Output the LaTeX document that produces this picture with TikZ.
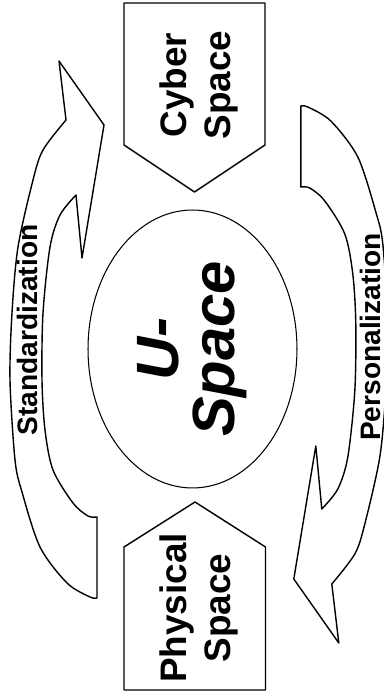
\documentclass[tikz,border=0pt]{standalone}
\usepackage{fontspec}
\setsansfont{Liberation Sans}
\usetikzlibrary{shapes.geometric}

\begin{document}
\begin{tikzpicture}[x=0.02cm, y=0.02cm, line join=round,
   box/.style={draw, thick},
   band/.style={draw, thick, fill=white},
   core/.style={ellipse, draw, semithick, rotate=90, align=center,
             minimum width=5.56cm, minimum height=4.18cm, inner sep=0pt,
             font=\sffamily\bfseries\itshape\fontsize{34}{32}\selectfont},
   spc/.style={rotate=90, align=center, inner sep=0pt,
             font=\sffamily\bfseries\fontsize{21}{25.5}\selectfont},
   lbl/.style={rotate=90, inner sep=0pt,
             font=\sffamily\bfseries\fontsize{16}{19}\selectfont},
   flowarrow/.pic={
     \draw[band] plot[smooth] coordinates {(66,577) (43,547) (33,517) (18,450)
           (12,384) (10,317) (15,237) (22,205) (40,150) (67,114) (90,100) (97,99)}
       -- plot[smooth] coordinates {(97,180) (88,181) (73,194) (53,227) (45,267)
           (42,317) (43,384) (50,450) (60,482) (76,502)}
       -- (82,439) -- (104,572) -- (59,636) -- cycle;
   }]

  \useasboundingbox (0,0) rectangle (384,697);

  % ===== Fleches circulaires =====
  \pic at (0,0) {flowarrow};
  \pic[rotate=180] at (397.8,690) {flowarrow};

  % ===== Espaces =====
  \draw[box] (124,694) -- (265,694) -- (265,552) -- (194.5,505) -- (124,552) -- cycle;
  \node[spc] (cyber) at (199,612) {Cyber\\Space};

  \draw[box] (124,7) -- (265.5,7) -- (265.5,150) -- (195,195) -- (124,150) -- cycle;
  \node[spc] (physical) at (199,89) {Physical\\Space};

  \node[core] (uspace) at (192.5,348) {U-\\Space};

  % ===== Libelles =====
  \node[lbl] (standard) at (27,367) {Standardization};
  \node[lbl] (personal) at (370,360) {Personalization};

\end{tikzpicture}
\end{document}
